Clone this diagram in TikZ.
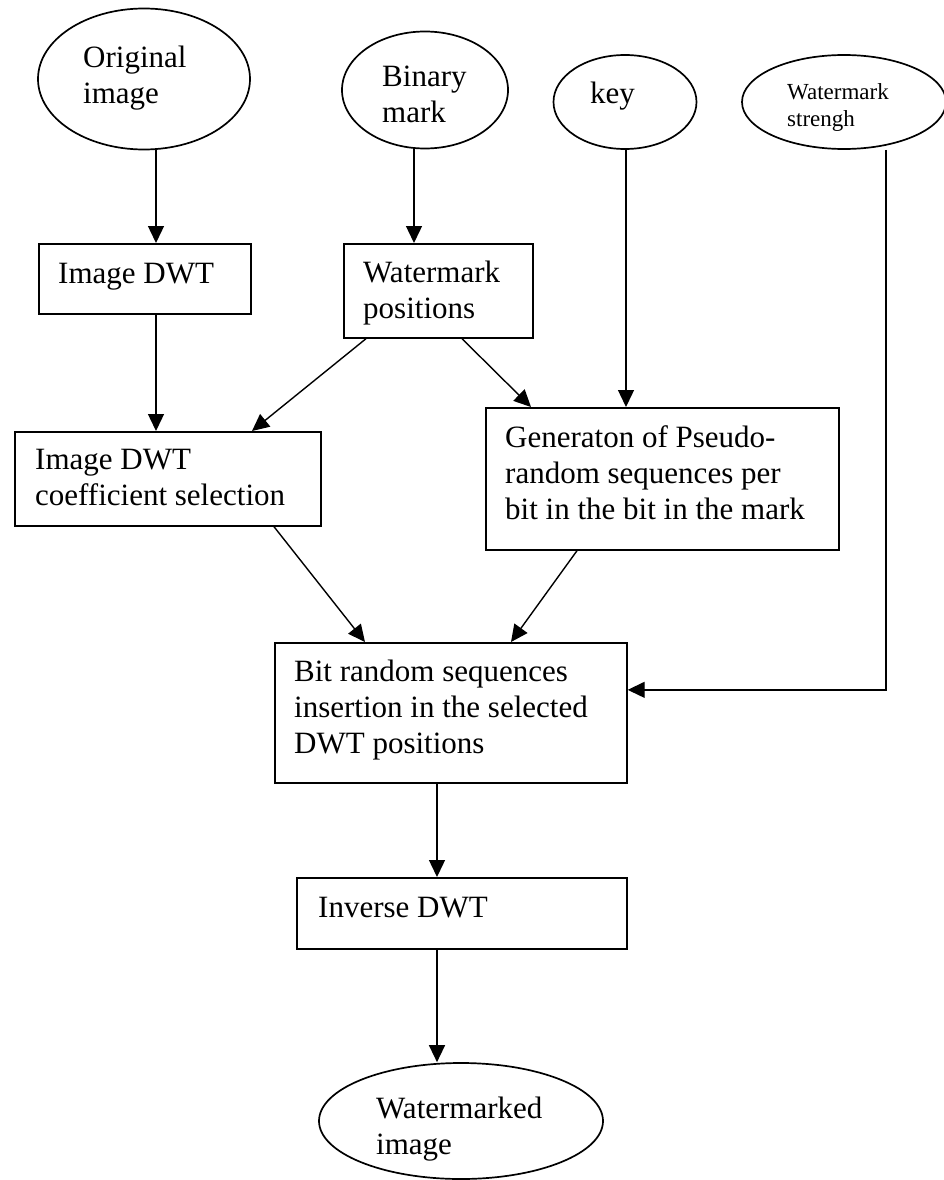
\documentclass[tikz,border=0pt]{standalone}
\usepackage{fontspec}
\setmainfont{Liberation Serif}
\usetikzlibrary{arrows.meta,shapes.geometric,calc}
\tikzset{
  shp/.style={draw=black, line width=1.7pt, inner sep=0pt},
  ell/.style={shp, ellipse},
  boxx/.style={shp, rectangle, anchor=north west},
  txt/.style={anchor=north west, inner sep=0pt, align=left, font=\fontsize{31}{36}\selectfont},
  smalltxt/.style={anchor=north west, inner sep=0pt, align=left, font=\fontsize{23}{27}\selectfont},
  arr/.style={draw=black, line width=1.4pt, -{Triangle[length=17pt,width=16pt]}},
}
\begin{document}
\begin{tikzpicture}[x=1pt,y=-1pt]
\useasboundingbox (0,0) rectangle (944,1180);
% ellipses
\node[ell, minimum width=212pt, minimum height=141pt] (orig) at (144,79) {};
\node[ell, minimum width=166pt, minimum height=117pt] (bin) at (425,90) {};
\node[ell, minimum width=143pt, minimum height=94pt] (key) at (625,102) {};
\node[ell, minimum width=204pt, minimum height=94pt] (str) at (844,102) {};
\node[ell, minimum width=284pt, minimum height=116pt] (wmi) at (461,1121) {};
% boxes
\node[boxx, minimum width=212pt, minimum height=70pt] (idwt) at (38,243) {};
\node[boxx, minimum width=189pt, minimum height=94pt] (wp) at (343,243) {};
\node[boxx, minimum width=306pt, minimum height=94pt] (coef) at (14,431) {};
\node[boxx, minimum width=353pt, minimum height=142pt] (gen) at (485,407) {};
\node[boxx, minimum width=352pt, minimum height=140pt] (bit) at (274,642) {};
\node[boxx, minimum width=330pt, minimum height=71pt] (inv) at (296,877) {};
% texts
\node[txt] (torig) at (83,41.8) {\strut Original\\image};
\node[txt] (tbin) at (382,60.8) {\strut Binary\\mark};
\node[txt] (tkey) at (590,77.8) {\strut key};
\node[smalltxt] (tstr) at (787,80.1) {\strut Watermark\\strengh};
\node[txt] (tidwt) at (58,257.8) {\strut Image DWT};
\node[txt] (twp) at (363,256.8) {\strut Watermark\\positions};
\node[txt] (tgen) at (505,421.8) {\strut Generaton of Pseudo-\\random sequences per\\bit in the bit in the mark};
\node[txt] (tcoef) at (35,443.8) {\strut Image DWT\\coefficient selection};
\node[txt] (tbit) at (294,655.8) {\strut Bit random sequences\\insertion in the selected\\DWT positions};
\node[txt] (tinv) at (318,891.8) {\strut Inverse DWT};
\node[txt] (twmi) at (376,1092.8) {\strut Watermarked\\image};
% anchor points
\coordinate (a1) at ([xshift=118pt]idwt.north west);
\coordinate (a2) at ([xshift=71pt]wp.north west);
\coordinate (a3) at ([xshift=141pt]gen.north west);
\coordinate (sx) at ([xshift=42pt]str.south);
% connectors
\draw[arr] (orig.south -| a1) -- (a1);
\draw[arr] (bin.south -| a2) -- (a2);
\draw[arr] (key.south -| a3) -- (a3);
\draw[arr] (sx) |- ([yshift=23pt]bit.east);
\draw[arr] ([xshift=118pt]idwt.south west) -- ([xshift=142pt]coef.north west);
\draw[arr] ([xshift=23pt]wp.south west) -- ([xshift=238pt]coef.north west);
\draw[arr] ([xshift=119pt]wp.south west) -- ([xshift=46pt]gen.north west);
\draw[arr] ([xshift=260pt]coef.south west) -- ([xshift=91pt]bit.north west);
\draw[arr] ([xshift=92pt]gen.south west) -- ([xshift=237pt]bit.north west);
\draw[arr] ([xshift=163pt]bit.south west) -- ([xshift=141pt]inv.north west);
\coordinate (a4) at ([xshift=141pt]inv.south west);
\draw[arr] (a4) -- (wmi.north -| a4);
\end{tikzpicture}
\end{document}
